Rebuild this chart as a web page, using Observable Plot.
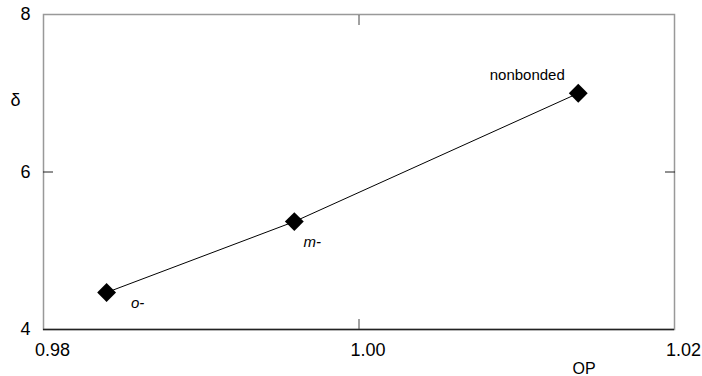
<!DOCTYPE html>
<html>
<head>
<meta charset="utf-8">
<script src="https://cdn.jsdelivr.net/npm/d3@7"></script>
<script src="https://cdn.jsdelivr.net/npm/@observablehq/plot@0.6"></script>
<style>
  html, body { margin: 0; padding: 0; background: #fff; }
  #chart { width: 702px; height: 376px; }
</style>
</head>
<body>
<div id="chart"></div>
<script>
const labels = ["o-", "m-", "nonbonded"];
const op = [0.9840, 0.9959, 1.0139];
const delta = [4.47, 5.37, 7.0];
const xTicks = [0.98, 1.00, 1.02];
const yTicks = [4, 6, 8];

const data = labels.map((l, i) => ({label: l, op: op[i], delta: delta[i]}));
const font = "Liberation Sans, Arial, sans-serif";

const labelStyle = {
  "o-": {dx: 31, dy: 11, fontStyle: "italic"},
  "m-": {dx: 18, dy: 21, fontStyle: "italic"},
  "nonbonded": {dx: -51, dy: -18, fontStyle: "normal"}
};

const chart = Plot.plot({
  width: 702,
  height: 376,
  marginLeft: 43,
  marginRight: 28,
  marginTop: 14,
  marginBottom: 47,
  style: {fontFamily: font, background: "#fff", color: "#000"},
  x: {domain: [0.98, 1.02]},
  y: {domain: [4, 8]},
  marks: [
    Plot.frame({stroke: "#999", strokeWidth: 1.5}),
    Plot.ruleY([4], {stroke: "#222", strokeWidth: 1.5}),
    // inward ticks
    Plot.axisX(xTicks.slice(1, 2), {anchor: "bottom", tickSize: -10, text: null, label: null, stroke: "#444"}),
    Plot.axisX(xTicks.slice(1, 2), {anchor: "top", tickSize: -10, text: null, label: null, stroke: "#444"}),
    Plot.axisY(yTicks.slice(1, 2), {anchor: "left", tickSize: -10, text: null, label: null, stroke: "#222"}),
    Plot.axisY(yTicks.slice(1, 2), {anchor: "right", tickSize: -10, text: null, label: null, stroke: "#222"}),
    // tick labels
    Plot.axisX(xTicks, {anchor: "bottom", tickSize: 0, tickPadding: 14, dx: 9, fontSize: 18, label: null, tickFormat: d3.format(".2f"), fill: "#000"}),
    Plot.axisY(yTicks, {anchor: "left", tickSize: 0, tickPadding: 13, fontSize: 18, label: null, tickFormat: d3.format("d"), fill: "#000"}),
    // axis titles
    Plot.text(["δ"], {frameAnchor: "top-left", dx: -28, dy: 86, text: d => d, fontSize: 18, textAnchor: "middle", lineAnchor: "middle", fill: "#000"}),
    Plot.text(["OP"], {frameAnchor: "bottom", dx: 225, dy: 39, text: d => d, fontSize: 16, textAnchor: "middle", lineAnchor: "middle", fill: "#000"}),
    // data
    Plot.line(data, {x: "op", y: "delta", stroke: "#000", strokeWidth: 1}),
    Plot.dot(data, {x: "op", y: "delta", symbol: "diamond2", r: 8.5, fill: "#000", stroke: "none"}),
    ...labels.map(l => Plot.text(data.filter(d => d.label === l), {
      x: "op", y: "delta", text: "label", fontSize: 15, textAnchor: "middle", lineAnchor: "middle",
      fill: "#000", ...labelStyle[l]
    }))
  ]
});
document.getElementById("chart").appendChild(chart);
</script>
</body>
</html>
